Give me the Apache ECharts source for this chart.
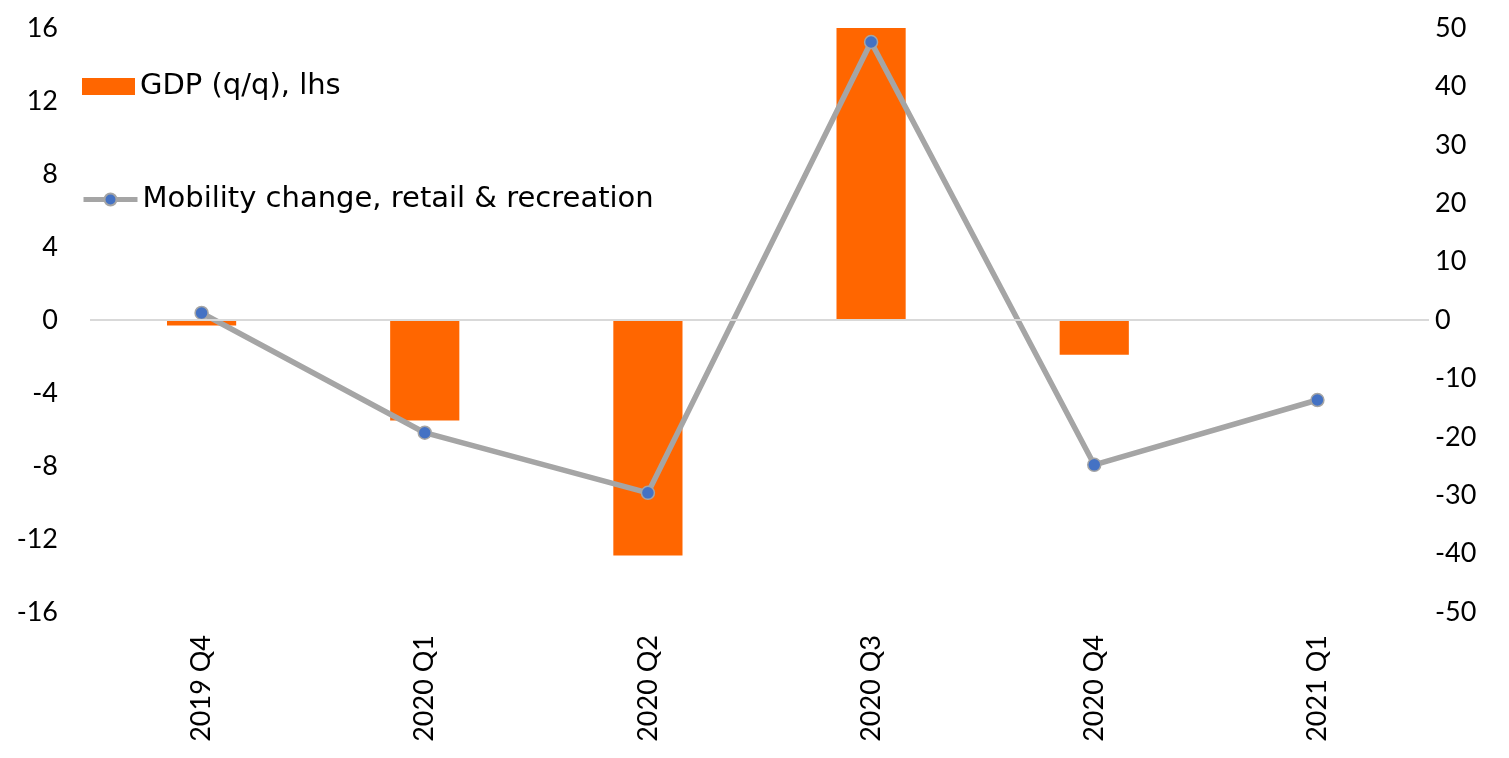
<!DOCTYPE html>
<html>
<head>
<meta charset="utf-8">
<script src="https://cdn.jsdelivr.net/npm/echarts@6/dist/echarts.min.js"></script>
<style>html,body{margin:0;padding:0;background:#fff;}#c{width:1509px;height:758px;}</style>
</head>
<body>
<div id="c"></div>
<script>
const categories = ['2019 Q4', '2020 Q1', '2020 Q2', '2020 Q3', '2020 Q4', '2021 Q1'];
const gdp = [-0.3, -5.5, -12.9, 16.0, -1.9, null];
const mobility = [1.2, -19.3, -29.6, 47.6, -24.8, -13.7];
const leftTicks = { min: -16, max: 16, interval: 4 };
const rightTicks = { min: -50, max: 50, interval: 10 };

const FONT = 'Lato, "Open Sans", sans-serif';
const LFONT = '"DejaVu Sans", sans-serif';
const chart = echarts.init(document.getElementById('c'));
chart.setOption({
  animation: false,
  textStyle: { fontFamily: FONT },
  grid: { left: 90, right: 80, top: 28, bottom: 146, containLabel: false },
  legend: [
    {
      data: [{ name: 'GDP (q/q), lhs', icon: 'rect' }],
      left: 77, top: 67,
      itemWidth: 53, itemHeight: 17, itemGap: 5,
      textStyle: { fontSize: 29, color: '#000', fontFamily: LFONT }
    },
    {
      data: ['Mobility change, retail & recreation'],
      left: 76, top: 180,
      itemWidth: 54, itemHeight: 15,
      lineStyle: { width: 5, color: '#a5a5a5' },
      textStyle: { fontSize: 29, color: '#000', fontFamily: LFONT }
    }
  ],
  xAxis: {
    type: 'category',
    data: categories,
    axisLine: { show: false, onZero: false },
    axisTick: { show: false },
    axisLabel: { rotate: 90, margin: 23, fontSize: 27, color: '#000', fontFamily: FONT }
  },
  yAxis: [
    {
      type: 'value',
      min: leftTicks.min, max: leftTicks.max, interval: leftTicks.interval,
      splitLine: { show: false },
      axisLine: { show: false }, axisTick: { show: false },
      axisLabel: { fontSize: 27, color: '#000', margin: 32, fontFamily: FONT }
    },
    {
      type: 'value',
      min: rightTicks.min, max: rightTicks.max, interval: rightTicks.interval,
      splitLine: { show: false },
      axisLine: { show: false }, axisTick: { show: false },
      axisLabel: { fontSize: 27, color: '#000', margin: 6, fontFamily: FONT }
    }
  ],
  series: [
    {
      name: 'GDP (q/q), lhs',
      type: 'bar',
      data: gdp,
      barWidth: '31%',
      itemStyle: { color: '#ff6600' },
      markLine: {
        silent: true,
        symbol: 'none',
        label: { show: false },
        lineStyle: { color: '#d9d9d9', width: 2, type: 'solid' },
        data: [{ yAxis: 0 }]
      },
      z: 2
    },
    {
      name: 'Mobility change, retail & recreation',
      type: 'line',
      yAxisIndex: 1,
      data: mobility,
      symbol: 'circle',
      symbolSize: 13,
      lineStyle: { color: '#a5a5a5', width: 5.5 },
      itemStyle: { color: '#4472c4', borderColor: '#a5a5a5', borderWidth: 1.5 },
      z: 3
    }
  ]
});
</script>
</body>
</html>
